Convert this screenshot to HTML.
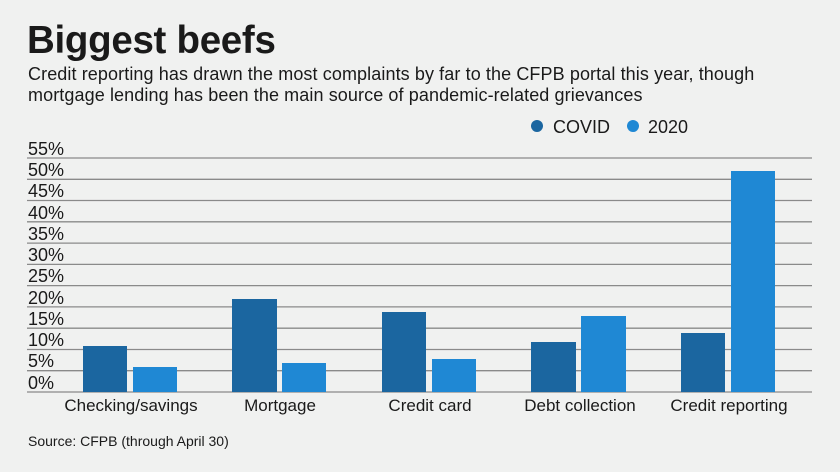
<!DOCTYPE html>
<html><head><style>
body{margin:0;width:840px;height:472px;background:#f0f1f0;font-family:"Liberation Sans",sans-serif;color:#1a1a1a;position:relative;overflow:hidden}
.a{position:absolute;white-space:nowrap}
</style></head><body>
<div class="a" style="left:27px;top:19px;font-size:38.5px;font-weight:bold;letter-spacing:-0.3px">Biggest beefs</div>
<div class="a" style="left:28px;top:64px;font-size:18px;line-height:21px;letter-spacing:0.1px">Credit reporting has drawn the most complaints by far to the CFPB portal this year, though<br>mortgage lending has been the main source of pandemic-related grievances</div>
<svg class="a" style="left:0;top:0" width="840" height="472">
<g font-family="Liberation Sans" font-size="18" fill="#1a1a1a">
<circle cx="537" cy="126" r="6" fill="#1b66a0"/><text x="553" y="133">COVID</text>
<circle cx="633" cy="126" r="6" fill="#1f88d4"/><text x="648" y="133">2020</text>
</g>
<g stroke="#8a8a8a" stroke-width="1.3">
<line x1="27" x2="812" y1="158" y2="158"/><line x1="27" x2="812" y1="179.3" y2="179.3"/><line x1="27" x2="812" y1="200.5" y2="200.5"/><line x1="27" x2="812" y1="221.8" y2="221.8"/><line x1="27" x2="812" y1="243.1" y2="243.1"/><line x1="27" x2="812" y1="264.4" y2="264.4"/><line x1="27" x2="812" y1="285.6" y2="285.6"/><line x1="27" x2="812" y1="306.9" y2="306.9"/><line x1="27" x2="812" y1="328.2" y2="328.2"/><line x1="27" x2="812" y1="349.5" y2="349.5"/><line x1="27" x2="812" y1="370.7" y2="370.7"/><line x1="27" x2="812" y1="392" y2="392"/>
</g>
<g font-family="Liberation Sans" font-size="18" fill="#1a1a1a">
<text x="28" y="155">55%</text><text x="28" y="176">50%</text><text x="28" y="197">45%</text><text x="28" y="219">40%</text><text x="28" y="240">35%</text><text x="28" y="261">30%</text><text x="28" y="282">25%</text><text x="28" y="304">20%</text><text x="28" y="325">15%</text><text x="28" y="346">10%</text><text x="28" y="367">5%</text><text x="28" y="389">0%</text>
</g>
<g fill="#1b66a0">
<rect x="83" y="346" width="44" height="46"/><rect x="232" y="299" width="45" height="93"/><rect x="382" y="312" width="44" height="80"/><rect x="531" y="342" width="45" height="50"/><rect x="681" y="333" width="44" height="59"/>
</g>
<g fill="#1f88d4">
<rect x="133" y="367" width="44" height="25"/><rect x="282" y="363" width="44" height="29"/><rect x="432" y="359" width="44" height="33"/><rect x="581" y="316" width="45" height="76"/><rect x="731" y="171" width="44" height="221"/>
</g>
<g font-family="Liberation Sans" font-size="17" fill="#1a1a1a" text-anchor="middle">
<text x="131" y="411">Checking/savings</text><text x="280" y="411">Mortgage</text><text x="430" y="411">Credit card</text><text x="580" y="411">Debt collection</text><text x="729" y="411">Credit reporting</text>
</g>
<text x="28" y="446" font-family="Liberation Sans" font-size="14" fill="#1a1a1a">Source: CFPB (through April 30)</text>
</svg>
</body></html>
